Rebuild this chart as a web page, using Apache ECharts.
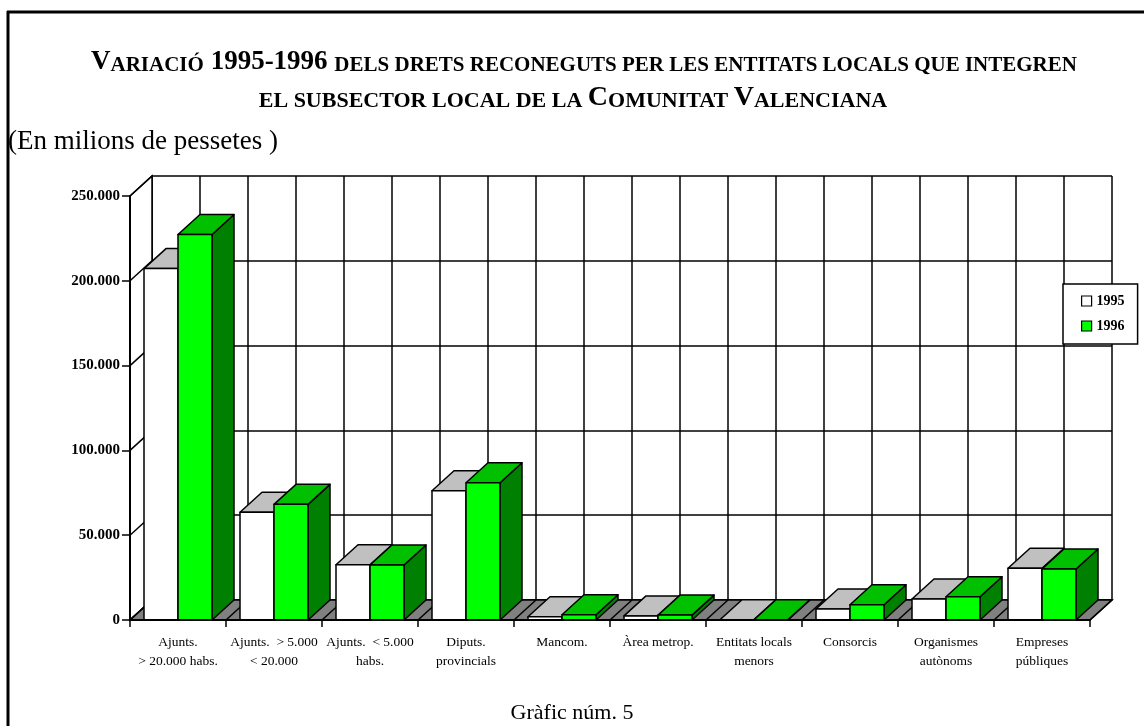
<!DOCTYPE html>
<html><head><meta charset="utf-8">
<script src="https://cdn.jsdelivr.net/npm/echarts@6/dist/echarts.min.js"></script>
<style>html,body{margin:0;padding:0;background:#fff}#c{width:1144px;height:726px}</style>
</head><body><div id="c"></div>
<script>
// ---- data ----
const categories = [
  'Ajunts.\n> 20.000 habs.',
  'Ajunts.  > 5.000\n< 20.000',
  'Ajunts.  < 5.000\nhabs.',
  'Diputs.\nprovincials',
  'Mancom.',
  'Àrea metrop.',
  'Entitats locals\nmenors',
  'Consorcis',
  'Organismes\nautònoms',
  'Empreses\npúbliques'
];
const values1995 = [207200, 63500, 32600, 76200, 1900, 2400, 150, 6500, 12400, 30500];
const values1996 = [227300, 68200, 32400, 80900, 3100, 2900, 200, 9000, 13700, 30100];
const seriesNames = ['1995', '1996'];
const yMin = 0, yMax = 250000, yStep = 50000;

// ---- style ----
const DX = 22, DY = -20;
const FONT = '"Liberation Serif", "Times New Roman", serif';
const COLORS = [
  { front: '#ffffff', top: '#c0c0c0', side: '#808080' },
  { front: '#00ff00', top: '#00c000', side: '#008000' }
];

const chart = echarts.init(document.getElementById('c'), null, { renderer: 'canvas' });

function fmt(v) { return String(v).replace(/\B(?=(\d{3})+(?!\d))/g, '.'); }

function barRenderer(idx) {
  const col = COLORS[idx];
  return function (params, api) {
    const i = api.value(0), v = api.value(1);
    const top = api.coord([i, v]);
    const base = api.coord([i, 0]);
    const bw = api.size([1, 0])[0];
    const w = bw * 34 / 96;
    const x0 = idx === 0 ? top[0] - w : top[0];
    const x1 = x0 + w;
    const yt = top[1], yb = base[1];
    const ls = { stroke: '#000', lineWidth: 1.5, lineJoin: 'round' };
    return {
      type: 'group', children: [
        { type: 'polygon', shape: { points: [[x1, yb], [x1 + DX, yb + DY], [x1 + DX, yt + DY], [x1, yt]] }, style: Object.assign({ fill: col.side }, ls) },
        { type: 'polygon', shape: { points: [[x0, yt], [x1, yt], [x1 + DX, yt + DY], [x0 + DX, yt + DY]] }, style: Object.assign({ fill: col.top }, ls) },
        { type: 'rect', shape: { x: x0, y: yt, width: w, height: yb - yt }, style: Object.assign({ fill: col.front }, ls) }
      ]
    };
  };
}

function wallsRenderer(params, api) {
  const n = categories.length;
  const bw = api.size([1, 0])[0];
  const c0 = api.coord([0, 0]);
  const xl = c0[0] - bw / 2, yb = c0[1];
  const xr = xl + bw * n;
  const yt = api.coord([0, yMax])[1];
  const ls = { stroke: '#000', lineWidth: 1.5 };
  const ch = [];
  ch.push({ type: 'polygon', shape: { points: [[xl, yb], [xl, yt], [xl + DX, yt + DY], [xl + DX, yb + DY]] }, style: { fill: '#fff', stroke: '#000', lineWidth: 1.5 } });
  for (let v = yMin; v <= yMax; v += yStep) {
    const y = api.coord([0, v])[1];
    ch.push({ type: 'line', shape: { x1: xl, y1: y, x2: xl + DX, y2: y + DY }, style: ls });
  }
  ch.push({ type: 'polygon', shape: { points: [[xl, yb], [xr, yb], [xr + DX, yb + DY], [xl + DX, yb + DY]] }, style: { fill: '#808080', stroke: '#000', lineWidth: 1.5 } });
  for (let k = 0; k <= 2 * n; k++) {
    const x = xl + k * bw / 2;
    ch.push({ type: 'line', shape: { x1: x, y1: yb, x2: x + DX, y2: yb + DY }, style: ls });
  }
  return { type: 'group', children: ch };
}

const blackLine = { color: '#000', width: 1.5 };
const titleRich1 = {
  b: { fontFamily: FONT, fontSize: 27, fontWeight: 'bold', color: '#000', verticalAlign: 'bottom' },
  s: { fontFamily: FONT, fontSize: 21, fontWeight: 'bold', color: '#000', verticalAlign: 'bottom' }
};
const titleRich2 = {
  b: { fontFamily: FONT, fontSize: 28, fontWeight: 'bold', color: '#000', verticalAlign: 'bottom' },
  s: { fontFamily: FONT, fontSize: 22, fontWeight: 'bold', color: '#000', verticalAlign: 'bottom' }
};

const option = {
  backgroundColor: '#fff',
  animation: false,
  title: [
    {
      text: '{b|V}{s|ARIACIÓ}{b| 1995-1996 }{s|DELS DRETS RECONEGUTS PER LES ENTITATS LOCALS QUE INTEGREN}',
      left: 584, top: 49, textAlign: 'center', padding: 0,
      textStyle: { fontFamily: FONT, rich: titleRich1 }
    },
    {
      text: '{s|EL SUBSECTOR LOCAL DE LA }{b|C}{s|OMUNITAT }{b|V}{s|ALENCIANA}',
      left: 573, top: 84, textAlign: 'center', padding: 0,
      textStyle: { fontFamily: FONT, rich: titleRich2 }
    },
    {
      text: '(En milions de pessetes )',
      left: 8, top: 128, padding: 0,
      textStyle: { fontFamily: FONT, fontSize: 27, fontWeight: 'normal', color: '#000' }
    },
    {
      text: 'Gràfic núm. 5',
      left: 'center', top: 702, padding: 0,
      textStyle: { fontFamily: FONT, fontSize: 22, fontWeight: 'normal', color: '#000' }
    }
  ],
  legend: {
    orient: 'vertical', left: 1063, top: 284,
    padding: [10, 13, 11, 18], itemGap: 11, itemWidth: 10, itemHeight: 10, itemTextGap: 4,
    backgroundColor: '#fff', borderColor: '#000', borderWidth: 1.5,
    textStyle: { fontFamily: FONT, fontSize: 14, fontWeight: 'bold', color: '#000' },
    data: [
      { name: seriesNames[0], icon: 'rect', itemStyle: { color: COLORS[0].front, borderColor: '#000', borderWidth: 1.2 } },
      { name: seriesNames[1], icon: 'rect', itemStyle: { color: COLORS[1].front, borderColor: '#000', borderWidth: 1.2 } }
    ]
  },
  grid: [
    { left: 130, top: 196, right: 54, bottom: 106 },
    { left: 152, top: 176, right: 32, bottom: 126, show: true, backgroundColor: '#fff', borderWidth: 0 }
  ],
  xAxis: [
    {
      type: 'category', gridIndex: 0, data: categories, z: 10,
      axisLine: { lineStyle: { color: '#000', width: 2 } },
      axisTick: { show: true, length: 7, lineStyle: { color: '#000', width: 1.5 } },
      axisLabel: { interval: 0, fontFamily: FONT, fontSize: 13.5, lineHeight: 19, color: '#000', margin: 13 },
      splitLine: { show: false }
    },
    {
      type: 'value', gridIndex: 1, min: 0, max: 2 * categories.length, interval: 1,
      axisLine: { show: true, lineStyle: blackLine },
      axisTick: { show: false }, axisLabel: { show: false },
      splitLine: { show: true, lineStyle: blackLine }
    }
  ],
  yAxis: [
    {
      type: 'value', gridIndex: 0, min: yMin, max: yMax, interval: yStep, z: 10,
      axisLine: { show: true, lineStyle: { color: '#000', width: 2 } },
      axisTick: { show: true, length: 8, lineStyle: { color: '#000', width: 1.5 } },
      axisLabel: { fontFamily: FONT, fontSize: 15, fontWeight: 'bold', color: '#000', margin: 10, formatter: fmt },
      splitLine: { show: false }
    },
    {
      type: 'value', gridIndex: 1, min: yMin, max: yMax, interval: yStep,
      axisLine: { show: true, lineStyle: blackLine },
      axisTick: { show: false }, axisLabel: { show: false },
      splitLine: { show: true, lineStyle: blackLine }
    }
  ],
  graphic: [
    { type: 'line', shape: { x1: 8, y1: 11, x2: 8, y2: 726 }, style: { stroke: '#000', lineWidth: 3 } },
    { type: 'line', shape: { x1: 7, y1: 12, x2: 1144, y2: 12 }, style: { stroke: '#000', lineWidth: 3 } }
  ],
  series: [
    {
      type: 'custom', name: 'walls', xAxisIndex: 0, yAxisIndex: 0, z: 1, silent: true,
      data: [[0, 0]], renderItem: wallsRenderer
    },
    {
      type: 'custom', name: seriesNames[0], xAxisIndex: 0, yAxisIndex: 0, z: 3,
      itemStyle: { color: COLORS[0].front },
      encode: { x: 0, y: 1 },
      data: values1995.map((v, i) => [i, v]), renderItem: barRenderer(0)
    },
    {
      type: 'custom', name: seriesNames[1], xAxisIndex: 0, yAxisIndex: 0, z: 4,
      itemStyle: { color: COLORS[1].front },
      encode: { x: 0, y: 1 },
      data: values1996.map((v, i) => [i, v]), renderItem: barRenderer(1)
    }
  ]
};
chart.setOption(option);
</script>
</body></html>
